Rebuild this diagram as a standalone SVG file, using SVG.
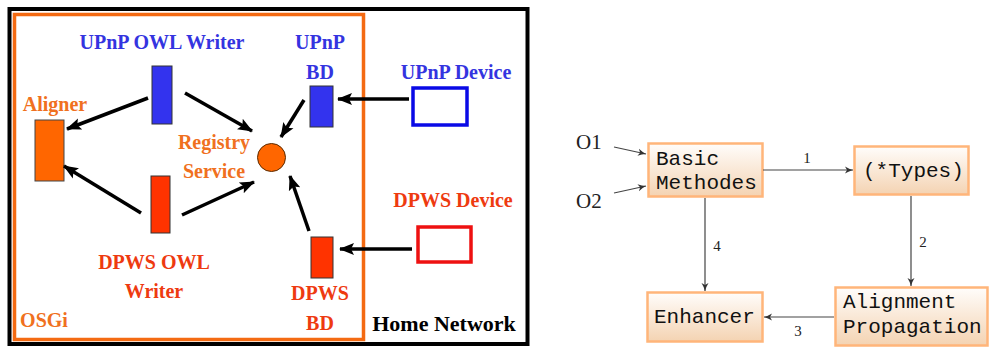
<svg xmlns="http://www.w3.org/2000/svg" width="990" height="347" viewBox="0 0 990 347">
<defs>
<marker id="bh" markerUnits="userSpaceOnUse" markerWidth="16" markerHeight="14" refX="14" refY="7" orient="auto">
<path d="M0,1 L15,7 L0,13 L3,7 Z" fill="#000"/>
</marker>
<marker id="sh" markerUnits="userSpaceOnUse" markerWidth="10" markerHeight="8" refX="8" refY="4" orient="auto">
<path d="M0,0.5 Q4,3 8,4 Q4,5 0,7.5 L2,4 Z" fill="#333"/>
</marker>
<linearGradient id="g" x1="0" y1="0" x2="0" y2="1">
<stop offset="0" stop-color="#fffdfb"/>
<stop offset="1" stop-color="#f4d3b2"/>
</linearGradient>
</defs>
<style>
.t{font-weight:bold;font-size:20px;text-anchor:middle}
.b{fill:#3434e0}
.o{fill:#f07020}
.r{fill:#ee3a10}
.k{stroke:#000;stroke-width:3.5;fill:none;marker-end:url(#bh)}
.box{fill:url(#g);stroke:#ffb57a;stroke-width:2.5}
.m{font-size:21px;fill:#111}
.s{fill:#222}
.c{stroke:#444;stroke-width:1.2;fill:none;marker-end:url(#sh)}
</style>
<rect width="990" height="347" fill="#fff"/>
<g font-family="Liberation Serif, DejaVu Serif, serif">
<g id="home-network">
<rect x="9.5" y="9" width="518" height="335" fill="none" stroke="#000" stroke-width="4"/>
<text class="t" x="444" y="331" style="font-size:22px" fill="#000">Home Network</text>
</g>
<g id="osgi">
<rect x="14.5" y="14.5" width="349" height="325" fill="none" stroke="#f46a12" stroke-width="3.5"/>
<text class="t o" x="44" y="327">OSGi</text>
</g>
<g id="upnp-owl-writer">
<rect x="152" y="66" width="20" height="58" fill="#3333ee" stroke="#333" stroke-width="1"/>
<text class="t b" x="162" y="49">UPnP OWL Writer</text>
</g>
<g id="aligner">
<rect x="35" y="120" width="29" height="61" fill="#ff6600" stroke="#444" stroke-width="1"/>
<text class="t o" x="55" y="111">Aligner</text>
</g>
<g id="registry-service">
<circle cx="271.5" cy="157.5" r="14" fill="#ff6600" stroke="#5a2a00" stroke-width="1"/>
<text class="t o" x="214" y="149">Registry</text>
<text class="t o" x="214" y="178">Service</text>
</g>
<g id="dpws-owl-writer">
<rect x="151" y="176" width="19" height="57" fill="#ff3300" stroke="#333" stroke-width="1"/>
<text class="t r" x="154" y="269">DPWS OWL</text>
<text class="t r" x="154" y="298">Writer</text>
</g>
<g id="upnp-bd">
<rect x="310" y="86" width="23" height="41" fill="#3333ee" stroke="#333" stroke-width="1"/>
<text class="t b" x="320" y="49">UPnP</text>
<text class="t b" x="320" y="79">BD</text>
</g>
<g id="dpws-bd">
<rect x="311" y="237" width="22" height="41" fill="#ff3300" stroke="#333" stroke-width="1"/>
<text class="t r" x="320" y="300">DPWS</text>
<text class="t r" x="320" y="330">BD</text>
</g>
<g id="upnp-device">
<rect x="413" y="88" width="54" height="37" fill="#fff" stroke="#0a0ae6" stroke-width="3.5"/>
<text class="t b" x="456" y="79">UPnP Device</text>
</g>
<g id="dpws-device">
<rect x="418" y="227" width="53" height="35" fill="#fff" stroke="#ee1111" stroke-width="3.5"/>
<text class="t r" x="453" y="207">DPWS Device</text>
</g>
</g>
<g id="left-connectors">
<line class="k" x1="409" y1="99" x2="338" y2="99"/>
<line class="k" x1="412" y1="249" x2="340" y2="249"/>
<line class="k" x1="304" y1="100" x2="281" y2="137"/>
<line class="k" x1="309" y1="231" x2="290" y2="176"/>
<line class="k" x1="185" y1="93" x2="252" y2="131"/>
<line class="k" x1="148" y1="98" x2="67" y2="129"/>
<line class="k" x1="141" y1="213" x2="64" y2="166"/>
<line class="k" x1="182" y1="215" x2="254" y2="182"/>
</g>
<g font-family="Liberation Mono, monospace">
<g id="basic-methodes">
<rect class="box" x="648.5" y="143.5" width="114" height="53"/>
<text class="m" x="656" y="165">Basic</text>
<text class="m" x="656" y="189">Methodes</text>
</g>
<g id="types">
<rect class="box" x="854.5" y="146.5" width="114" height="48"/>
<text class="m" x="863" y="177">(*Types)</text>
</g>
<g id="enhancer">
<rect class="box" x="647.5" y="292.5" width="115" height="49"/>
<text class="m" x="654" y="323">Enhancer</text>
</g>
<g id="alignment-propagation">
<rect class="box" x="835.5" y="287.5" width="152" height="58"/>
<text class="m" x="843" y="308">Alignment</text>
<text class="m" x="843" y="333">Propagation</text>
</g>
</g>
<g font-family="Liberation Serif, serif">
<g id="o-labels">
<text class="s" x="576" y="149" font-size="21">O1</text>
<text class="s" x="576" y="208" font-size="21">O2</text>
</g>
<g id="right-connectors">
<line class="c" x1="614" y1="147" x2="646" y2="154"/>
<line class="c" x1="614" y1="193" x2="646" y2="186"/>
<line class="c" x1="763" y1="170" x2="853" y2="170"/>
<line class="c" x1="911" y1="196" x2="911" y2="286"/>
<line class="c" x1="834" y1="317" x2="764" y2="317"/>
<line class="c" x1="705" y1="198" x2="705" y2="291"/>
<text class="s" x="807" y="163" font-size="15" text-anchor="middle">1</text>
<text class="s" x="923" y="247" font-size="15" text-anchor="middle">2</text>
<text class="s" x="798" y="336" font-size="15" text-anchor="middle">3</text>
<text class="s" x="717" y="251" font-size="15" text-anchor="middle">4</text>
</g>
</g>
</svg>
